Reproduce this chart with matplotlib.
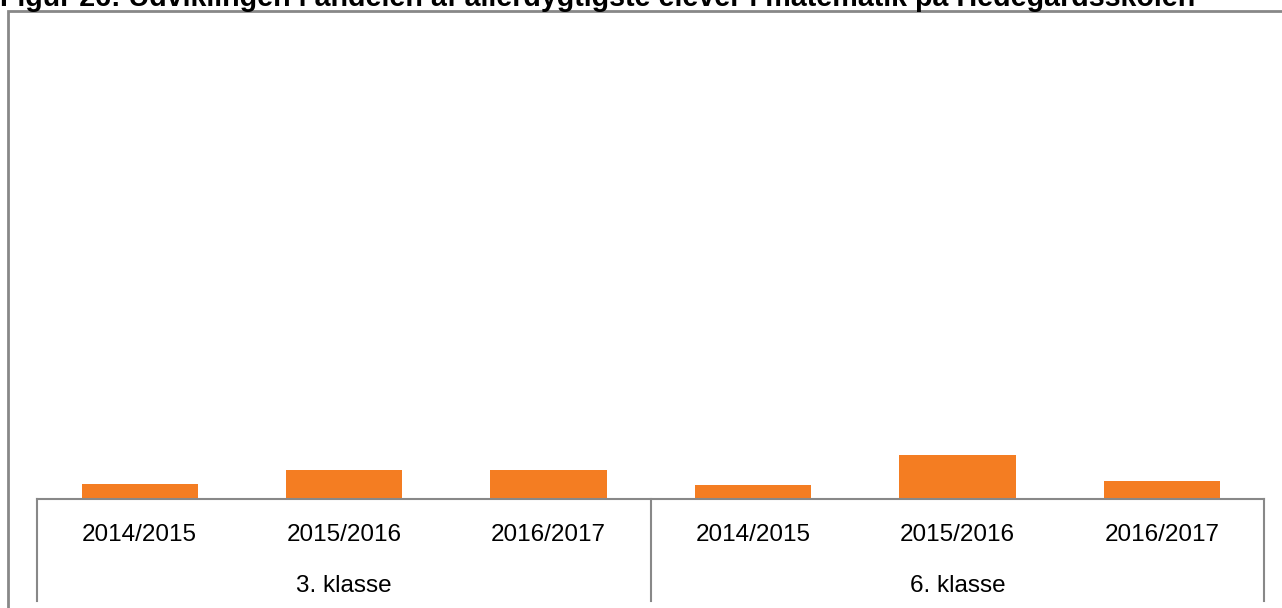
import matplotlib
matplotlib.use("Agg")
import matplotlib.pyplot as plt
from matplotlib.patches import Rectangle
from matplotlib.lines import Line2D

# Data
groups = ["3. klasse", "6. klasse"]
years = ["2014/2015", "2015/2016", "2016/2017"]
values_3kl = [3.1, 6.1, 6.2]
values_6kl = [3.0, 9.3, 3.7]
title = "Figur 26: Udviklingen i andelen af allerdygtigste elever i matematik på Hedegårdsskolen"

W, H = 1282, 608
fig = plt.figure(figsize=(W / 100, H / 100), dpi=100)

GRAY = "#888888"
ORANGE = "#F47D22"

# axes geometry in pixels
ax_left, ax_right = 37.5, 1264
ax_base, ax_top = 498.7, 30
ax = fig.add_axes([ax_left / W, (H - ax_base) / H, (ax_right - ax_left) / W, (ax_base - ax_top) / H])

values = values_3kl + values_6kl
labels = years + years
x = list(range(len(values)))
ax.bar(x, values, width=0.569, color=ORANGE, zorder=2)
ax.set_xlim(-0.5, len(values) - 0.5)
ax.set_ylim(0, 100)

for s in ["left", "top", "right"]:
    ax.spines[s].set_visible(False)
ax.spines["bottom"].set_color(GRAY)
ax.spines["bottom"].set_linewidth(1.5)
ax.set_yticks([])
ax.set_xticks(x)
ax.set_xticklabels(labels, fontsize=17.5, family="Liberation Sans", color="black")
ax.tick_params(axis="x", length=0, pad=18.5)

# separators
sep_bottom = (ax_base - 601) / (ax_base - ax_top)
for xs in [-0.5, 2.5, 5.5]:
    ax.add_line(Line2D([xs, xs], [0, sep_bottom], color=GRAY, lw=1.5, clip_on=False,
                       transform=ax.get_xaxis_transform()))

# group labels
grp_y = (ax_base - 586) / (ax_base - ax_top)
for i, g in enumerate(groups):
    ax.text(1 + 3 * i, grp_y, g, transform=ax.get_xaxis_transform(), ha="center", va="center",
            fontsize=17.5, family="Liberation Sans", color="black")

# outer frame
fig.add_artist(Rectangle((8.3 / W, -0.02), 1.05, 1.02 - 11.3 / H, transform=fig.transFigure,
                         fill=False, edgecolor=GRAY, lw=2))

# title (cut off at top, as in the reference)
t = fig.text(0.0, 1 - 6 / H, title, ha="left", va="baseline", fontsize=18,
             fontweight="bold", family="Liberation Sans", color="black")
fig.canvas.draw()
bb = t.get_window_extent()
t.set_fontsize(18 * 1195 / bb.width)

fig.savefig("out.png", dpi=100)
